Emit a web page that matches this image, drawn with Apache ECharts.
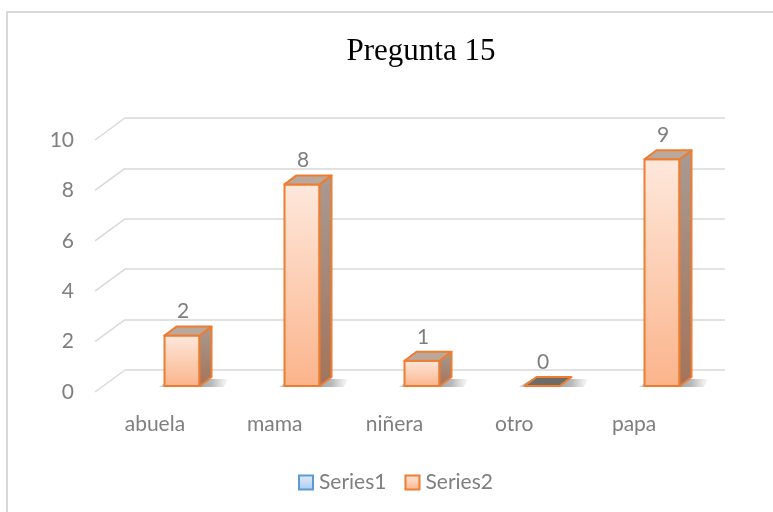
<!DOCTYPE html>
<html>
<head>
<meta charset="utf-8">
<script src="https://cdn.jsdelivr.net/npm/echarts@6/dist/echarts.min.js"></script>
<style>
  html, body { margin: 0; padding: 0; background: #fff; }
  #chart { width: 773px; height: 512px; }
</style>
</head>
<body>
<div id="chart"></div>
<script>
const categories = ['abuela', 'mama', 'niñera', 'otro', 'papa']
const series1Values = []
const series2Values = [2, 8, 1, 0, 9]
const yTicks = [0, 2, 4, 6, 8, 10]

const grey = '#7f7f7f'
const font = 'Lato'
const orange = '#ed7d31'

const chart = echarts.init(document.getElementById('chart'))

// front face / top / side of one 3D column
const renderBar = (params, api) => {
  const idx = api.value(0)
  const v = api.value(1)
  const top = api.coord([idx, v])
  const base = api.coord([idx, 0])
  const w = 35
  const dx = 12
  const dy = -9
  const cx = top[0] - 3
  const x0 = cx - w / 2
  const x1 = cx + w / 2
  const yb = base[1] + 16
  const yt = top[1] + 16
  const children = [
    {
      type: 'polygon',
      shape: { points: [[x0 - 6, yb + 1], [x1 + dx + 12, yb + 1], [x1 + dx + 18, yb + dy + 2], [x0 + dx - 4, yb + dy + 2]] },
      style: {
        fill: new echarts.graphic.LinearGradient(0, 0, 1, 0, [
          { offset: 0, color: 'rgba(90,90,90,0.15)' },
          { offset: 0.2, color: 'rgba(50,50,50,0.7)' },
          { offset: 0.75, color: 'rgba(80,80,80,0.4)' },
          { offset: 1, color: 'rgba(120,120,120,0)' }
        ])
      }
    }
  ]
  if (v > 0) {
    children.push({
      type: 'rect',
      shape: { x: x0, y: yt, width: w, height: yb - yt },
      style: {
        fill: new echarts.graphic.LinearGradient(0, 0, 0, 1, [
          { offset: 0, color: '#fee8dc' },
          { offset: 1, color: '#fbb48b' }
        ]),
        stroke: orange,
        lineWidth: 2
      }
    })
    children.push({
      type: 'polygon',
      shape: { points: [[x1, yt], [x1 + dx, yt + dy], [x1 + dx, yb + dy], [x1, yb]] },
      style: {
        fill: new echarts.graphic.LinearGradient(0, 0, 0, 1, [
          { offset: 0, color: '#a99a92' },
          { offset: 1, color: '#a3735a' }
        ]),
        stroke: orange,
        lineWidth: 2,
        lineJoin: 'round'
      }
    })
  }
  children.push({
    type: 'polygon',
    shape: { points: [[x0, yt], [x1, yt], [x1 + dx, yt + dy], [x0 + dx, yt + dy]] },
    style: {
      fill: v > 0 ? '#bba89d' : '#6f6b69',
      stroke: orange,
      lineWidth: 2,
      lineJoin: 'round'
    }
  })
  children.push({
    type: 'text',
    style: {
      x: cx + 1,
      y: yt + dy - 15,
      text: String(v),
      align: 'center',
      verticalAlign: 'middle',
      fill: grey,
      font: '21px ' + font
    }
  })
  return { type: 'group', children: children }
}

// diagonal lines from the front edge to the back wall
const renderDiag = (params, api) => {
  const v = api.value(0)
  const p = api.coord([0, v])
  const x = p[0] - api.size([1, 0])[0] / 2
  return {
    type: 'line',
    shape: { x1: x, y1: p[1], x2: x + 30, y2: p[1] - 22 },
    style: { stroke: '#d9d9d9', lineWidth: 1.5 }
  }
}

const option = {
  animation: false,
  title: {
    text: 'Pregunta 15',
    left: 416,
    top: 31,
    textAlign: 'center',
    textStyle: { fontFamily: 'Liberation Serif', fontSize: 31, fontWeight: 'normal', color: '#000' }
  },
  graphic: [
    {
      type: 'rect',
      shape: { x: 7, y: 12, width: 820, height: 540 },
      style: { fill: 'none', stroke: '#d9d9d9', lineWidth: 2 },
      silent: true,
      z: -10
    }
  ],
  legend: {
    left: 293,
    top: 467,
    itemWidth: 14,
    itemHeight: 14,
    itemGap: 18,
    icon: 'rect',
    textStyle: { color: grey, fontFamily: font, fontSize: 21, padding: [0, 0, 0, 1] },
    data: [
      {
        name: 'Series1',
        itemStyle: {
          color: new echarts.graphic.LinearGradient(0, 0, 0, 1, [
            { offset: 0, color: '#e3eefa' },
            { offset: 1, color: '#a9c9ee' }
          ]),
          borderColor: '#5b9bd5',
          borderWidth: 2
        }
      },
      {
        name: 'Series2',
        itemStyle: {
          color: new echarts.graphic.LinearGradient(0, 0, 0, 1, [
            { offset: 0, color: '#fee8dc' },
            { offset: 1, color: '#fbb48b' }
          ]),
          borderColor: orange,
          borderWidth: 2
        }
      }
    ]
  },
  grid: [
    { left: 95, right: 79, top: 140, bottom: 120 },
    { left: 125, right: 48, top: 118, bottom: 142 }
  ],
  xAxis: [
    {
      type: 'category',
      gridIndex: 0,
      data: categories,
      axisLine: { show: false },
      axisTick: { show: false },
      axisLabel: { color: grey, fontFamily: font, fontSize: 21, margin: 22 }
    },
    {
      type: 'category',
      gridIndex: 1,
      data: categories,
      show: false
    }
  ],
  yAxis: [
    {
      type: 'value',
      gridIndex: 0,
      min: 0,
      max: 10,
      interval: 2,
      axisLine: { show: false },
      axisTick: { show: false },
      splitLine: { show: false },
      axisLabel: { color: grey, fontFamily: font, fontSize: 21, margin: 21 }
    },
    {
      type: 'value',
      gridIndex: 1,
      min: 0,
      max: 10,
      interval: 2,
      axisLine: { show: false },
      axisTick: { show: false },
      axisLabel: { show: false },
      splitLine: { lineStyle: { color: '#d9d9d9', width: 1.5 } }
    }
  ],
  series: [
    {
      name: 'Series1',
      type: 'custom',
      xAxisIndex: 1,
      yAxisIndex: 1,
      renderItem: renderBar,
      data: series1Values.map((v, i) => [i, v])
    },
    {
      name: 'Series2',
      type: 'custom',
      xAxisIndex: 1,
      yAxisIndex: 1,
      renderItem: renderBar,
      data: series2Values.map((v, i) => [i, v]),
      z: 3
    },
    {
      name: 'diag',
      type: 'custom',
      xAxisIndex: 0,
      yAxisIndex: 0,
      renderItem: renderDiag,
      data: yTicks.map(v => [v]),
      silent: true,
      z: 1
    }
  ]
}
chart.setOption(option)
</script>
</body>
</html>
